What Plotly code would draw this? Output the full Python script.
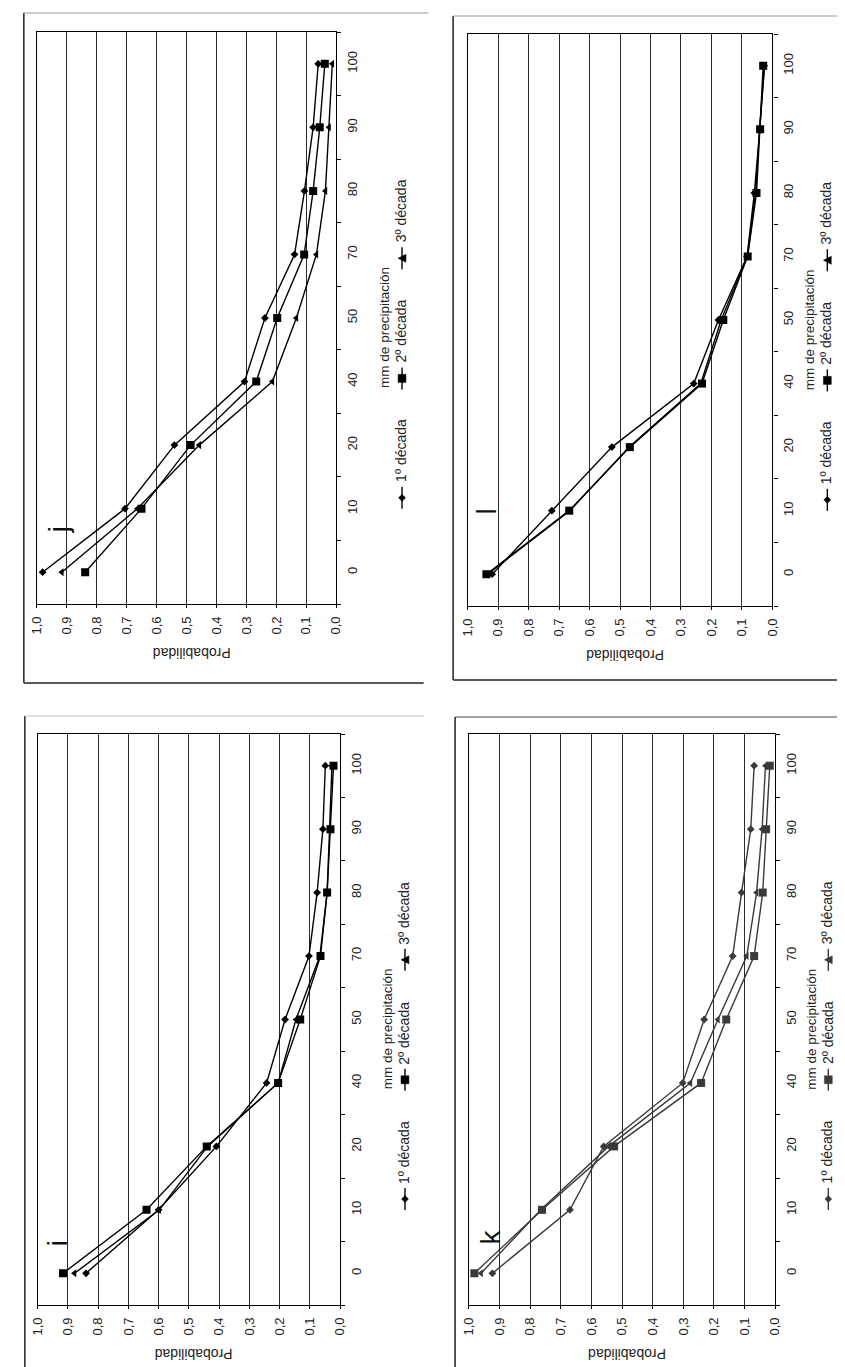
import plotly.graph_objects as go

W, H = 845, 1367
FONT = "Liberation Sans, Arial, sans-serif"

# ---------------- data ----------------
categories = ["0", "10", "20", "40", "50", "70", "80", "90", "100"]
prob_ticks = [1.0, 0.9, 0.8, 0.7, 0.6, 0.5, 0.4, 0.3, 0.2, 0.1, 0.0]
prob_labels = ["1,0", "0,9", "0,8", "0,7", "0,6", "0,5", "0,4", "0,3", "0,2", "0,1", "0,0"]
series_names = ["1º década", "2º década", "3º década"]
x_title = "mm de precipitación"
y_title = "Probabilidad"

j_dec1 = [0.98, 0.705, 0.54, 0.306, 0.238, 0.139, 0.106, 0.077, 0.060]
j_dec2 = [0.838, 0.650, 0.486, 0.267, 0.197, 0.107, 0.077, 0.055, 0.038]
j_dec3 = [0.916, 0.664, 0.457, 0.213, 0.133, 0.066, 0.036, 0.024, 0.013]

l_dec1 = [0.920, 0.724, 0.527, 0.258, 0.177, 0.083, 0.059, 0.041, 0.027]
l_dec2 = [0.939, 0.667, 0.468, 0.231, 0.161, 0.081, 0.052, 0.040, 0.030]
l_dec3 = [0.935, 0.665, 0.470, 0.235, 0.168, 0.082, 0.055, 0.042, 0.025]

i_dec1 = [0.840, 0.600, 0.409, 0.243, 0.182, 0.103, 0.076, 0.057, 0.049]
i_dec2 = [0.916, 0.640, 0.441, 0.205, 0.132, 0.065, 0.043, 0.032, 0.022]
i_dec3 = [0.878, 0.598, 0.438, 0.205, 0.146, 0.067, 0.043, 0.035, 0.027]

k_dec1 = [0.923, 0.670, 0.560, 0.302, 0.232, 0.139, 0.110, 0.080, 0.069]
k_dec2 = [0.982, 0.761, 0.526, 0.242, 0.160, 0.069, 0.041, 0.030, 0.018]
k_dec3 = [0.960, 0.765, 0.544, 0.277, 0.187, 0.093, 0.061, 0.043, 0.032]

# ---------------- layout helpers (pixel -> paper) ----------------
def px(x):
    return x / W

def py(y):
    return 1 - y / H

symbols = ["diamond", "square", "triangle-left"]
sizes = [6, 8, 7]

panels = [
    dict(letter="j", data=(j_dec1, j_dec2, j_dec3), x0=21, x1=326, y0=24, y1=596,
         color="#000000", letter_pos=(43, 522), mm_x=375, lg_x=393),
    dict(letter="l", data=(l_dec1, l_dec2, l_dec3), x0=460, x1=770, y0=26, y1=598,
         color="#000000", letter_pos=(479, 503), mm_x=808, lg_x=826),
    dict(letter="i", data=(i_dec1, i_dec2, i_dec3), x0=22, x1=330, y0=726, y1=1297,
         color="#000000", letter_pos=(42, 1235), mm_x=378, lg_x=396),
    dict(letter="k", data=(k_dec1, k_dec2, k_dec3), x0=461, x1=773, y0=726, y1=1297,
         color="#3a3a3a", letter_pos=(483, 1229), mm_x=809, lg_x=827),
]

fig = go.Figure()
annotations = []
shapes = []
layout_axes = {}

for n, p in enumerate(panels, 1):
    xs = "x" if n == 1 else f"x{n}"
    ys = "y" if n == 1 else f"y{n}"
    for s in range(3):
        fig.add_trace(go.Scatter(
            x=p["data"][s], y=categories, xaxis=xs, yaxis=ys,
            mode="lines+markers", name=series_names[s], showlegend=False,
            line=dict(color=p["color"], width=1.4),
            marker=dict(symbol=symbols[s], size=sizes[s], color=p["color"],
                        line=dict(width=0)),
            hoverinfo="skip",
        ))
    xa = "xaxis" if n == 1 else f"xaxis{n}"
    ya = "yaxis" if n == 1 else f"yaxis{n}"
    layout_axes[xa] = dict(
        domain=[px(p["x0"]), px(p["x1"])], anchor=ys, range=[1.0, 0.0],
        tickmode="array", tickvals=prob_ticks, ticktext=prob_labels, tickangle=-90,
        ticks="outside", ticklen=3, tickcolor="#000", showline=True, linecolor="#000",
        linewidth=1.4, mirror=True, showgrid=True, gridcolor="#2b2b2b", gridwidth=1.2,
        zeroline=False, tickfont=dict(family=FONT, size=13, color="#222"),
        ticklabelstandoff=3, fixedrange=True,
    )
    layout_axes[ya] = dict(
        domain=[py(p["y1"]), py(p["y0"])], anchor=xs, type="category",
        categoryorder="array", categoryarray=categories, range=[-0.5, 8.5],
        side="right", showline=True, linecolor="#000", linewidth=1.4, mirror=True,
        ticks="outside", ticklen=4, tickcolor="#000", tickson="boundaries",
        tickangle=-90, showgrid=False, zeroline=False,
        tickfont=dict(family=FONT, size=13, color="#222"), ticklabelstandoff=4,
        fixedrange=True,
    )

    cx = (p["x0"] + p["x1"]) / 2
    cat_h = (p["y1"] - p["y0"]) / 9.0

    def catpos(c):
        return p["y1"] - (c + 0.5) * cat_h

    # value-axis title (upside down as in the rotated original)
    annotations.append(dict(text=y_title, x=px(cx + 5), y=py(p["y1"] + 49),
                            xref="paper", yref="paper", showarrow=False, textangle=180,
                            xanchor="center", yanchor="middle",
                            font=dict(family=FONT, size=14, color="#222")))
    # category-axis title
    annotations.append(dict(text=x_title, x=px(p["mm_x"]), y=py(catpos(3.85)),
                            xref="paper", yref="paper", showarrow=False, textangle=-90,
                            xanchor="center", yanchor="middle",
                            font=dict(family=FONT, size=13.5, color="#222")))
    # panel letter
    lx, ly = p["letter_pos"]
    annotations.append(dict(text=p["letter"], x=px(lx), y=py(ly), xref="paper",
                            yref="paper", showarrow=False, textangle=-90,
                            xanchor="center", yanchor="middle",
                            font=dict(family=FONT, size=28, color="#111")))
    # legend (rotated)
    lgx = p["lg_x"]
    key_cats = [1.17, 3.05, 4.94]
    for s in range(3):
        ky = catpos(key_cats[s])
        shapes.append(dict(type="line", xref="paper", yref="paper",
                           x0=px(lgx), x1=px(lgx), y0=py(ky - 11), y1=py(ky + 11),
                           line=dict(color=p["color"], width=1.4)))
        if s == 0:
            d = 3.5
            path = (f"M {px(lgx)},{py(ky - d)} L {px(lgx + d)},{py(ky)} "
                    f"L {px(lgx)},{py(ky + d)} L {px(lgx - d)},{py(ky)} Z")
        elif s == 1:
            d = 4
            path = (f"M {px(lgx - d)},{py(ky - d)} L {px(lgx + d)},{py(ky - d)} "
                    f"L {px(lgx + d)},{py(ky + d)} L {px(lgx - d)},{py(ky + d)} Z")
        else:
            d = 4
            path = (f"M {px(lgx - d)},{py(ky)} L {px(lgx + d)},{py(ky - d)} "
                    f"L {px(lgx + d)},{py(ky + d)} Z")
        shapes.append(dict(type="path", xref="paper", yref="paper", path=path,
                           fillcolor=p["color"], line=dict(color=p["color"], width=0.5)))
        annotations.append(dict(text=series_names[s], x=px(lgx - 1), y=py(ky - 47),
                                xref="paper", yref="paper", showarrow=False, textangle=-90,
                                xanchor="center", yanchor="middle",
                                font=dict(family=FONT, size=14, color="#222")))

# chart-area frames
def seg(x0, y0, x1, y1, color="#222", width=1.5):
    shapes.append(dict(type="line", xref="paper", yref="paper",
                       x0=px(x0), y0=py(y0), x1=px(x1), y1=py(y1),
                       line=dict(color=color, width=width)))

seg(8, 5, 8, 675); seg(8, 675, 415, 675); seg(8, 5, 420, 5, "#9a9a9a", 1)
seg(445, 8, 445, 672); seg(445, 672, 845, 672); seg(445, 8, 845, 8, "#9a9a9a", 1)
seg(9, 708, 9, 1367); seg(9, 708, 415, 708, "#c4c4c4", 1)
seg(447, 709, 447, 1367); seg(447, 709, 844, 709, "#444", 1); seg(844, 709, 844, 1367, "#444", 1)

fig.update_layout(
    width=W, height=H, margin=dict(l=0, r=0, t=0, b=0),
    paper_bgcolor="white", plot_bgcolor="white", showlegend=False,
    annotations=annotations, shapes=shapes, **layout_axes,
)

fig.write_html("out.html")
